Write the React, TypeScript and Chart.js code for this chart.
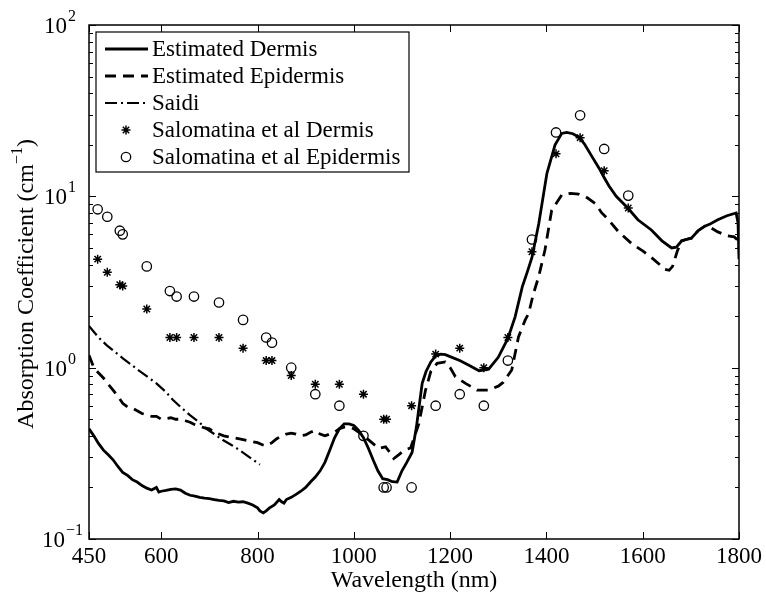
import React, { useEffect, useRef } from 'react';
import { Chart, registerables } from 'chart.js';

Chart.register(...registerables);

const FONT = "'Liberation Serif', 'Times New Roman', serif";

// X tick labels (nm)
const xTickValues = [450, 600, 800, 1000, 1200, 1400, 1600, 1800];
// Y decade exponents
const yDecades = [-1, 0, 1, 2];

// Estimated Dermis (solid)
const dermisWl = [450, 460, 470, 480, 490, 500, 510, 520, 530, 540, 550, 560, 570, 580, 590, 595, 600, 610, 620, 630, 640, 650, 660, 670, 680, 690, 700, 710, 720, 730, 740, 750, 760, 770, 780, 790, 800, 805, 812, 818, 825, 835, 845, 850, 855, 860, 870, 880, 890, 900, 910, 920, 930, 940, 950, 960, 970, 980, 990, 1000, 1010, 1020, 1030, 1040, 1050, 1060, 1070, 1080, 1090, 1100, 1110, 1121, 1130, 1142, 1150, 1160, 1170, 1180, 1190, 1200, 1220, 1240, 1260, 1280, 1300, 1320, 1335, 1350, 1360, 1370, 1384, 1401, 1418, 1432, 1442, 1455, 1469, 1480, 1495, 1510, 1519, 1530, 1545, 1569, 1590, 1618, 1640, 1660, 1670, 1681, 1690, 1701, 1715, 1729, 1740, 1756, 1775, 1794, 1798, 1800];
const dermisVal = [0.44, 0.40, 0.36, 0.33, 0.31, 0.29, 0.265, 0.245, 0.235, 0.222, 0.215, 0.205, 0.198, 0.193, 0.20, 0.188, 0.19, 0.192, 0.195, 0.196, 0.193, 0.185, 0.18, 0.178, 0.175, 0.173, 0.172, 0.17, 0.168, 0.167, 0.163, 0.166, 0.164, 0.165, 0.162, 0.158, 0.152, 0.146, 0.142, 0.146, 0.152, 0.158, 0.17, 0.165, 0.162, 0.17, 0.175, 0.182, 0.19, 0.2, 0.215, 0.23, 0.25, 0.28, 0.33, 0.39, 0.44, 0.47, 0.47, 0.46, 0.43, 0.39, 0.34, 0.29, 0.25, 0.225, 0.222, 0.216, 0.215, 0.25, 0.28, 0.32, 0.45, 0.81, 0.95, 1.08, 1.17, 1.2, 1.19, 1.16, 1.1, 1.03, 0.96, 0.98, 1.15, 1.48, 1.98, 2.97, 3.6, 4.4, 6.9, 13.6, 20, 23.3, 23.6, 23.2, 22, 20, 17, 14.5, 13, 11.5, 10, 8.55, 7.3, 6.36, 5.5, 5.0, 5.05, 5.5, 5.6, 5.7, 6.3, 6.7, 6.9, 7.3, 7.7, 8.0, 7.0, 4.3];

// Estimated Epidermis (dashed)
const epidermisWl = [450, 460, 470, 480, 490, 500, 510, 520, 530, 540, 550, 560, 570, 580, 590, 600, 610, 620, 630, 640, 650, 660, 670, 680, 690, 700, 710, 720, 730, 740, 750, 760, 770, 780, 790, 800, 810, 818, 830, 840, 850, 860, 870, 880, 890, 900, 910, 920, 930, 940, 950, 960, 970, 980, 990, 1000, 1010, 1020, 1030, 1040, 1052, 1066, 1075, 1083, 1093, 1105, 1118, 1135, 1149, 1160, 1173, 1190, 1200, 1211, 1232, 1256, 1280, 1300, 1310, 1328, 1342, 1356, 1363, 1373, 1384, 1397, 1411, 1432, 1450, 1467, 1485, 1501, 1515, 1529, 1550, 1577, 1600, 1618, 1635, 1646, 1655, 1662, 1672, 1681, 1690, 1701, 1715, 1729, 1740, 1756, 1775, 1790, 1796, 1800];
const epidermisVal = [1.18, 1.0, 0.93, 0.87, 0.80, 0.74, 0.68, 0.62, 0.59, 0.58, 0.56, 0.54, 0.53, 0.52, 0.52, 0.50, 0.505, 0.51, 0.50, 0.50, 0.49, 0.48, 0.465, 0.455, 0.445, 0.44, 0.42, 0.41, 0.40, 0.395, 0.39, 0.385, 0.38, 0.375, 0.37, 0.365, 0.355, 0.35, 0.365, 0.385, 0.40, 0.41, 0.415, 0.41, 0.40, 0.405, 0.42, 0.43, 0.41, 0.40, 0.41, 0.42, 0.44, 0.45, 0.45, 0.44, 0.42, 0.40, 0.38, 0.36, 0.338, 0.345, 0.32, 0.295, 0.31, 0.33, 0.34, 0.47, 0.74, 0.95, 1.06, 1.08, 1.0, 0.885, 0.81, 0.74, 0.74, 0.78, 0.82, 0.97, 1.51, 1.9, 2.07, 2.7, 3.4, 4.86, 8.3, 10.2, 10.4, 10.3, 9.8, 9.1, 8.0, 7.3, 6.2, 5.3, 4.8, 4.4, 4.0, 3.75, 3.7, 3.9, 4.8, 5.5, 5.6, 5.7, 6.3, 6.7, 6.6, 6.2, 5.9, 5.8, 5.6, 4.9];

// Saidi (dash-dot)
const saidiWl = [450, 470, 487, 500, 521, 540, 556, 575, 590, 610, 624, 640, 659, 675, 694, 710, 728, 745, 763, 780, 797, 805];
const saidiVal = [1.75, 1.5, 1.35, 1.26, 1.13, 1.03, 0.95, 0.87, 0.81, 0.72, 0.65, 0.59, 0.53, 0.49, 0.44, 0.41, 0.378, 0.355, 0.33, 0.305, 0.282, 0.272];

// Salomatina et al measurements
const salomatinaWl = [468, 488, 514, 520, 570, 618, 632, 668, 720, 770, 818, 830, 870, 920, 970, 1020, 1062, 1068, 1120, 1170, 1220, 1270, 1320, 1370, 1420, 1470, 1520, 1570];
const salomatinaDermis = [4.3, 3.6, 3.05, 3.0, 2.2, 1.5, 1.5, 1.5, 1.5, 1.3, 1.1, 1.1, 0.9, 0.8, 0.8, 0.7, 0.5, 0.5, 0.6, 1.2, 1.3, 1.0, 1.5, 4.75, 17.7, 22, 14.1, 8.55];
const salomatinaEpidermis = [8.4, 7.6, 6.3, 6.0, 3.9, 2.8, 2.6, 2.6, 2.4, 1.9, 1.5, 1.4, 1.0, 0.7, 0.6, 0.4, 0.2, 0.2, 0.2, 0.6, 0.7, 0.6, 1.1, 5.6, 23.6, 29.7, 18.9, 10.1];

const seriesLabels = ['Estimated Dermis', 'Estimated Epidermis', 'Saidi', 'Salomatina et al Dermis', 'Salomatina et al Epidermis'];

const toXY = (xs: number[], ys: number[]) => xs.map((x, i) => ({ x, y: ys[i] }));

function drawStar(ctx: CanvasRenderingContext2D, x: number, y: number, r: number) {
  ctx.beginPath();
  for (let k = 0; k < 4; k++) {
    const ang = (k * Math.PI) / 4;
    ctx.moveTo(x - Math.cos(ang) * r, y - Math.sin(ang) * r);
    ctx.lineTo(x + Math.cos(ang) * r, y + Math.sin(ang) * r);
  }
  ctx.stroke();
}

const framePlugin = {
  id: 'matlabFrame',
  afterDraw(chart: any) {
    const { ctx, chartArea: a } = chart;
    const xs = chart.scales.x;
    const ys = chart.scales.y;
    ctx.save();
    ctx.strokeStyle = '#000';
    ctx.fillStyle = '#000';
    ctx.lineWidth = 1;
    ctx.setLineDash([]);
    // ticks
    ctx.beginPath();
    for (const v of xTickValues) {
      const p = Math.round(xs.getPixelForValue(v)) + 0.5;
      ctx.moveTo(p, a.bottom);
      ctx.lineTo(p, a.bottom - 7);
      ctx.moveTo(p, a.top);
      ctx.lineTo(p, a.top + 7);
    }
    for (let e = -1; e <= 2; e++) {
      for (let m = 1; m <= 9; m++) {
        if (e === 2 && m > 1) break;
        const v = m * Math.pow(10, e);
        const p = Math.round(ys.getPixelForValue(v)) + 0.5;
        const len = m === 1 ? 7 : 4;
        ctx.moveTo(a.left, p);
        ctx.lineTo(a.left + len, p);
        ctx.moveTo(a.right, p);
        ctx.lineTo(a.right - len, p);
      }
    }
    ctx.stroke();
    // frame
    ctx.lineWidth = 1.5;
    ctx.strokeRect(a.left, a.top, a.right - a.left, a.bottom - a.top);

    // y tick labels 10^n
    ctx.textBaseline = 'alphabetic';
    for (const e of yDecades) {
      const p = ys.getPixelForValue(Math.pow(10, e));
      const baseRight = e < 0 ? 65 : 67;
      ctx.font = `23px ${FONT}`;
      ctx.textAlign = 'right';
      ctx.fillText('10', baseRight, p + 8);
      ctx.font = `16px ${FONT}`;
      ctx.textAlign = 'left';
      ctx.fillText(e < 0 ? '\u2212' + String(-e) : String(e), baseRight + 1, p - 4);
    }

    // x title
    ctx.font = `24px ${FONT}`;
    ctx.textAlign = 'center';
    ctx.textBaseline = 'middle';
    ctx.fillText('Wavelength (nm)', (a.left + a.right) / 2, 581);

    // y title (rotated with superscript)
    ctx.save();
    ctx.translate(33, 284);
    ctx.rotate(-Math.PI / 2);
    ctx.textBaseline = 'alphabetic';
    ctx.textAlign = 'left';
    const t1 = 'Absorption Coefficient (cm';
    const t2 = '\u22121';
    const t3 = ')';
    ctx.font = `24px ${FONT}`;
    const w1 = ctx.measureText(t1).width;
    const w3 = ctx.measureText(t3).width;
    ctx.font = `16px ${FONT}`;
    const w2 = ctx.measureText(t2).width;
    const total = w1 + w2 + w3;
    let sx = -total / 2;
    ctx.font = `24px ${FONT}`;
    ctx.fillText(t1, sx, 0);
    sx += w1;
    ctx.font = `16px ${FONT}`;
    ctx.fillText(t2, sx, -11);
    sx += w2;
    ctx.font = `24px ${FONT}`;
    ctx.fillText(t3, sx, 0);
    ctx.restore();

    // legend
    const lx = 96, ly = 32, lw = 313, lh = 140;
    ctx.fillStyle = '#fff';
    ctx.fillRect(lx, ly, lw, lh);
    ctx.lineWidth = 1.2;
    ctx.strokeStyle = '#000';
    ctx.strokeRect(lx, ly, lw, lh);
    ctx.fillStyle = '#000';
    const rowY = [49, 76, 103, 130, 157];
    chart.data.datasets.forEach((ds: any, i: number) => {
      const yRow = rowY[i];
      ctx.strokeStyle = '#000';
      if (ds.showLine !== false) {
        ctx.lineWidth = ds.borderWidth;
        ctx.setLineDash(ds.borderDash || []);
        ctx.beginPath();
        ctx.moveTo(105, yRow);
        ctx.lineTo(148, yRow);
        ctx.stroke();
        ctx.setLineDash([]);
      } else if (ds.pointStyle === 'star') {
        ctx.lineWidth = ds.pointBorderWidth;
        drawStar(ctx, 126, yRow, ds.pointRadius);
      } else {
        ctx.lineWidth = ds.pointBorderWidth;
        ctx.beginPath();
        ctx.arc(126, yRow, ds.pointRadius, 0, Math.PI * 2);
        ctx.stroke();
      }
      ctx.font = `23px ${FONT}`;
      ctx.textAlign = 'left';
      ctx.textBaseline = 'alphabetic';
      ctx.fillText(ds.label, 152, yRow + 7);
    });
    ctx.restore();
  },
};

export default function App() {
  const ref = useRef<HTMLCanvasElement | null>(null);
  useEffect(() => {
    if (!ref.current) return;
    const chart = new Chart(ref.current, {
      type: 'line',
      data: {
        datasets: [
          {
            label: seriesLabels[0],
            data: toXY(dermisWl, dermisVal),
            borderColor: '#000',
            borderWidth: 2.8,
            pointRadius: 0,
            tension: 0,
            fill: false,
          },
          {
            label: seriesLabels[1],
            data: toXY(epidermisWl, epidermisVal),
            borderColor: '#000',
            borderWidth: 2.8,
            borderDash: [11, 7],
            pointRadius: 0,
            tension: 0,
            fill: false,
          },
          {
            label: seriesLabels[2],
            data: toXY(saidiWl, saidiVal),
            borderColor: '#000',
            borderWidth: 2.2,
            borderDash: [12, 4, 2, 4],
            pointRadius: 0,
            tension: 0,
            fill: false,
          },
          {
            label: seriesLabels[3],
            data: toXY(salomatinaWl, salomatinaDermis),
            showLine: false,
            pointStyle: 'star',
            pointRadius: 4.5,
            pointBorderWidth: 1.5,
            pointBorderColor: '#000',
            pointBackgroundColor: '#000',
            borderColor: '#000',
          },
          {
            label: seriesLabels[4],
            data: toXY(salomatinaWl, salomatinaEpidermis),
            showLine: false,
            pointStyle: 'circle',
            pointRadius: 4.7,
            pointBorderWidth: 1.3,
            pointBorderColor: '#000',
            pointBackgroundColor: 'rgba(0,0,0,0)',
            borderColor: '#000',
          },
        ] as any,
      },
      options: {
        responsive: false,
        animation: false,
        events: [],
        layout: { padding: { top: 25, right: 25, left: 0, bottom: 0 } },
        plugins: { legend: { display: false }, tooltip: { enabled: false } },
        scales: {
          x: {
            type: 'linear',
            min: 450,
            max: 1800,
            afterBuildTicks: (s: any) => {
              s.ticks = xTickValues.map((v) => ({ value: v }));
            },
            afterFit: (s: any) => {
              s.height = 55;
            },
            ticks: {
              autoSkip: false,
              maxRotation: 0,
              padding: 4,
              color: '#000',
              font: { family: FONT, size: 23 },
              callback: (v: any) => String(v),
            },
            grid: { display: false, drawTicks: false },
            border: { display: false },
          },
          y: {
            type: 'logarithmic',
            min: 0.1,
            max: 100,
            afterFit: (s: any) => {
              s.width = 89;
            },
            ticks: { display: false },
            grid: { display: false, drawTicks: false },
            border: { display: false },
          },
        },
      } as any,
      plugins: [framePlugin],
    });
    return () => chart.destroy();
  }, []);
  return (
    <div style={{ position: 'absolute', left: 0, top: 0, width: 766, height: 594, background: '#fff' }}>
      <canvas ref={ref} width={766} height={594} style={{ display: 'block' }} />
    </div>
  );
}
